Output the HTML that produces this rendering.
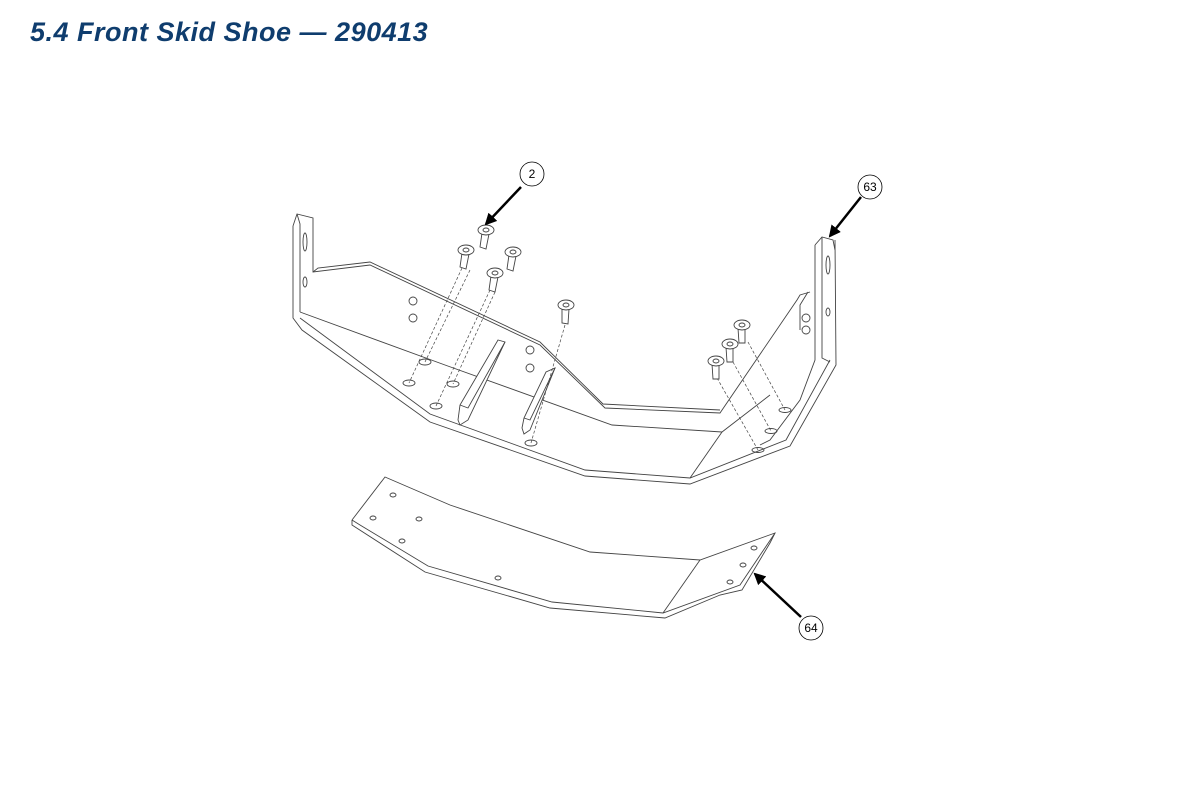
<!DOCTYPE html>
<html><head><style>
html,body{margin:0;padding:0;background:#fff;width:1200px;height:800px;overflow:hidden}
h1{position:absolute;left:30px;top:17px;margin:0;font:italic bold 27px "Liberation Sans",sans-serif;letter-spacing:0.5px;color:#0f3d6e}
svg{position:absolute;left:0;top:0}
</style></head><body>
<h1>5.4 Front Skid Shoe — 290413</h1>
<svg width="1200" height="800" viewBox="0 0 1200 800" fill="none" stroke="#444" stroke-width="0.9">
<defs><marker id="ah" markerWidth="12" markerHeight="12" refX="10" refY="6" orient="auto" markerUnits="userSpaceOnUse"><path d="M0,0 L12,6 L0,12 z" fill="#000" stroke="none"/></marker></defs>
<!-- main bracket -->
<polyline points="293,226 297,214 313,218 313,272 370,265 540,345 605,408 720,413 797,300 800,295 810,292"/>
<polyline points="297,214 300,224 300,312"/>
<polyline points="293,226 293,318 302,330 430,422 585,476 690,484 790,446 836,365 835,240"/>
<polyline points="300,318 430,414 585,470 690,478 786,440 830,360"/>
<polyline points="300,312 445,365 612,425 722,432 770,395"/>
<polyline points="690,478 722,432"/>
<polyline points="815,245 822,237 833,240 835,250"/>
<polyline points="822,237 822,358 830,362"/>
<polyline points="815,245 815,360 800,400 770,440 760,445"/>
<polyline points="808,292 800,305 800,330"/>
<polyline points="313,272 318,268 370,262 540,342 603,404 720,410"/>
<!-- slots -->
<ellipse cx="305" cy="242" rx="2" ry="9"/><ellipse cx="305" cy="282" rx="2" ry="5"/>
<ellipse cx="828" cy="265" rx="2" ry="9"/><ellipse cx="828" cy="312" rx="2" ry="4"/>
<circle cx="413" cy="301" r="4"/><circle cx="413" cy="318" r="4"/>
<circle cx="530" cy="350" r="4"/><circle cx="530" cy="368" r="4"/>
<circle cx="806" cy="318" r="4"/><circle cx="806" cy="330" r="4"/>
<ellipse cx="425" cy="362" rx="6" ry="3"/><ellipse cx="409" cy="383" rx="6" ry="3"/>
<ellipse cx="453" cy="384" rx="6" ry="3"/><ellipse cx="436" cy="406" rx="6" ry="3"/>
<ellipse cx="531" cy="443" rx="6" ry="3"/>
<ellipse cx="785" cy="410" rx="6" ry="2.5"/><ellipse cx="771" cy="431" rx="6" ry="2.5"/><ellipse cx="758" cy="450" rx="6" ry="2.5"/>
<!-- gussets -->
<polygon points="458,420 460,405 498,340 505,342 468,420 460,425" fill="#fff"/>
<polyline points="460,405 468,408 505,342"/>
<polygon points="522,428 524,418 546,372 555,368 530,430 524,434" fill="#fff"/>
<polyline points="524,418 530,420 555,368"/>
<!-- dashed -->
<g stroke-dasharray="3,2" stroke-width="0.7">
<line x1="462" y1="268" x2="409" y2="383"/><line x1="470" y1="270" x2="425" y2="362"/>
<line x1="490" y1="290" x2="436" y2="406"/><line x1="495" y1="292" x2="453" y2="384"/>
<line x1="565" y1="325" x2="531" y2="443"/>
<line x1="717" y1="378" x2="758" y2="450"/><line x1="733" y1="362" x2="771" y2="431"/><line x1="748" y1="342" x2="785" y2="410"/>
</g>
<!-- screws -->
<g fill="#fff">
<g transform="translate(486,230)"><path d="M-4,3 L-6,17 L0,19 L3,4"/><ellipse rx="8" ry="5"/><ellipse rx="3" ry="2"/></g>
<g transform="translate(466,250)"><path d="M-4,3 L-6,17 L0,19 L3,4"/><ellipse rx="8" ry="5"/><ellipse rx="3" ry="2"/></g>
<g transform="translate(513,252)"><path d="M-4,3 L-6,17 L0,19 L3,4"/><ellipse rx="8" ry="5"/><ellipse rx="3" ry="2"/></g>
<g transform="translate(495,273)"><path d="M-4,3 L-6,17 L0,19 L3,4"/><ellipse rx="8" ry="5"/><ellipse rx="3" ry="2"/></g>
<g transform="translate(566,305)"><path d="M-4,3 L-4,18 L2,19 L3,4"/><ellipse rx="8" ry="5"/><ellipse rx="3" ry="2"/></g>
<g transform="translate(716,361)"><path d="M-4,3 L-3,18 L3,18 L3,4"/><ellipse rx="8" ry="5"/><ellipse rx="3" ry="2"/></g>
<g transform="translate(730,344)"><path d="M-4,3 L-3,18 L3,18 L3,4"/><ellipse rx="8" ry="5"/><ellipse rx="3" ry="2"/></g>
<g transform="translate(742,325)"><path d="M-4,3 L-3,18 L3,18 L3,4"/><ellipse rx="8" ry="5"/><ellipse rx="3" ry="2"/></g>
</g>
<!-- skid shoe -->
<polyline points="352,520 385,477 450,505 590,552 700,560 775,533 770,543 742,590 720,595 665,618 550,608 425,572 352,525 352,520"/>
<polyline points="352,520 360,525 428,566 552,602 663,613 740,585 775,533"/>
<line x1="663" y1="613" x2="700" y2="560"/>
<ellipse cx="393" cy="495" rx="3" ry="2"/><ellipse cx="373" cy="518" rx="3" ry="2"/>
<ellipse cx="419" cy="519" rx="3" ry="2"/><ellipse cx="402" cy="541" rx="3" ry="2"/>
<ellipse cx="498" cy="578" rx="3" ry="2"/>
<ellipse cx="754" cy="548" rx="3" ry="2"/><ellipse cx="743" cy="565" rx="3" ry="2"/><ellipse cx="730" cy="582" rx="3" ry="2"/>
<!-- callouts -->
<g stroke="#000" stroke-width="2.5">
<line x1="521" y1="187" x2="486" y2="224" marker-end="url(#ah)"/>
<line x1="861" y1="197" x2="830" y2="236" marker-end="url(#ah)"/>
<line x1="801" y1="617" x2="755" y2="574" marker-end="url(#ah)"/>
</g>
<g fill="#fff" stroke="#000" stroke-width="0.8">
<circle cx="532" cy="174" r="12"/><circle cx="870" cy="187" r="12"/><circle cx="811" cy="628" r="12"/>
</g>
<g fill="#000" stroke="none" font-family="Liberation Sans,sans-serif" font-size="12" text-anchor="middle">
<text x="532" y="178">2</text><text x="870" y="191">63</text><text x="811" y="632">64</text>
</g>
</svg>
</body></html>
